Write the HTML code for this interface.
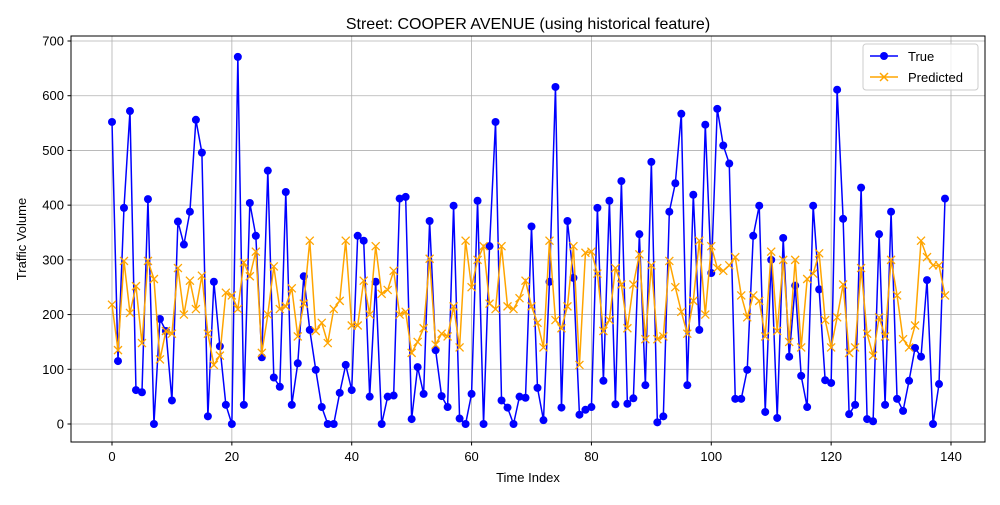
<!DOCTYPE html>
<html><head><meta charset="utf-8"><style>
body{margin:0;background:#fff;font-family:"Liberation Sans",sans-serif;}
</style></head><body>
<svg id="chart" width="1000" height="500" xmlns="http://www.w3.org/2000/svg" font-family="Liberation Sans, sans-serif">
<rect width="1000" height="500" fill="#fff"/>
<text x="528" y="29" font-size="16" text-anchor="middle">Street: COOPER AVENUE (using historical feature)</text>
<g id="grid"></g>
<g id="ticks"></g>
<rect x="71" y="36" width="914" height="406" fill="none" stroke="#000" stroke-width="1"/>
<g id="series"></g>
<text x="528" y="482" font-size="13" text-anchor="middle">Time Index</text>
<text x="26" y="239" font-size="13" text-anchor="middle" transform="rotate(-90 26 239)">Traffic Volume</text>
<g>
<rect x="863" y="44" width="115" height="46" rx="3" fill="#fff" fill-opacity="0.8" stroke="#ccc"/>
<g>
<line x1="870" y1="56" x2="898" y2="56" stroke="blue" stroke-width="1.5"/><circle cx="884" cy="56" r="4" fill="blue"/>
<text x="908" y="61" font-size="13">True</text></g>
<g>
<line x1="870" y1="77" x2="898" y2="77" stroke="orange" stroke-width="1.5"/><path d="M880,73 L888,81 M880,81 L888,73" stroke="orange" stroke-width="1.5"/>
<text x="908" y="82" font-size="13">Predicted</text></g>
</g>
</svg>
<script>
const trueValues=[552,115,395,572,62,58,411,0,192,170,43,370,328,388,556,496,14,260,142,35,0,671,35,404,344,122,463,85,68,424,35,111,270,172,99,31,0,0,57,108,62,344,335,50,260,0,50,52,412,415,9,104,55,371,135,51,31,399,10,0,55,408,0,325,552,43,30,0,50,48,361,66,7,260,616,30,371,267,17,26,31,395,79,408,36,444,37,47,347,71,479,3,14,388,440,567,71,419,172,547,276,576,509,476,46,46,99,344,399,22,300,11,340,123,253,88,31,399,246,80,75,611,375,18,35,432,9,5,347,35,388,46,24,79,139,123,263,0,73,412];
const predValues=[218,135,298,203,252,148,298,265,118,170,165,285,200,262,210,271,165,108,125,240,235,210,295,270,315,130,200,288,210,215,248,160,220,335,170,185,148,210,225,335,180,180,262,200,325,238,245,280,200,205,130,150,175,302,145,165,160,215,140,335,250,300,325,220,210,325,215,210,230,262,215,185,140,335,190,175,215,325,108,313,315,275,170,190,285,255,175,255,310,155,290,155,160,298,250,205,165,225,335,200,325,285,280,290,305,235,195,235,225,160,315,170,300,150,300,140,265,275,312,190,140,195,255,130,140,285,165,125,195,160,300,235,155,140,180,335,305,290,290,235];
const xTicks=[0,20,40,60,80,100,120,140];
const yTicks=[0,100,200,300,400,500,600,700];
const NS="http://www.w3.org/2000/svg";
const xs=v=>112+v*(951-112)/140;
const ys=v=>424-v*(424-41)/700;
function mk(tag,attrs,parent){const e=document.createElementNS(NS,tag);for(const k in attrs)e.setAttribute(k,attrs[k]);parent.appendChild(e);return e;}
const grid=document.getElementById('grid'),ticks=document.getElementById('ticks'),series=document.getElementById('series');
xTicks.forEach(t=>{
  const g=mk('line',{x1:xs(t),x2:xs(t),y1:36,y2:442,stroke:'#b0b0b0','stroke-width':0.8},grid);
  
  
  mk('line',{x1:xs(t),x2:xs(t),y1:442,y2:445.5,stroke:'#000'},ticks);
  const l=mk('text',{x:xs(t),y:461,'font-size':13,'text-anchor':'middle'},ticks);l.textContent=t;
  
  
});
yTicks.forEach(t=>{
  const g=mk('line',{x1:71,x2:985,y1:ys(t),y2:ys(t),stroke:'#b0b0b0','stroke-width':0.8},grid);
  
  
  mk('line',{x1:67.5,x2:71,y1:ys(t),y2:ys(t),stroke:'#000'},ticks);
  const l=mk('text',{x:64,y:ys(t)+4.5,'font-size':13,'text-anchor':'end'},ticks);l.textContent=t;
  
  
});
function draw(vals,color,name,marker){
  const p=mk('polyline',{points:vals.map((v,i)=>xs(i)+','+ys(v)).join(' '),fill:'none',stroke:color,'stroke-width':1.5},series);
  
  
  vals.forEach((v,i)=>{
    const x=xs(i),y=ys(v);let m;
    if(marker==='o'){m=mk('circle',{cx:x,cy:y,r:4,fill:color},series);}
    else{m=mk('path',{d:`M${x-4},${y-4}L${x+4},${y+4}M${x-4},${y+4}L${x+4},${y-4}`,stroke:color,'stroke-width':1.3},series);}
    
    
  });
}
draw(trueValues,'blue','true','o');
draw(predValues,'orange','predicted','x');
</script>
</body></html>
